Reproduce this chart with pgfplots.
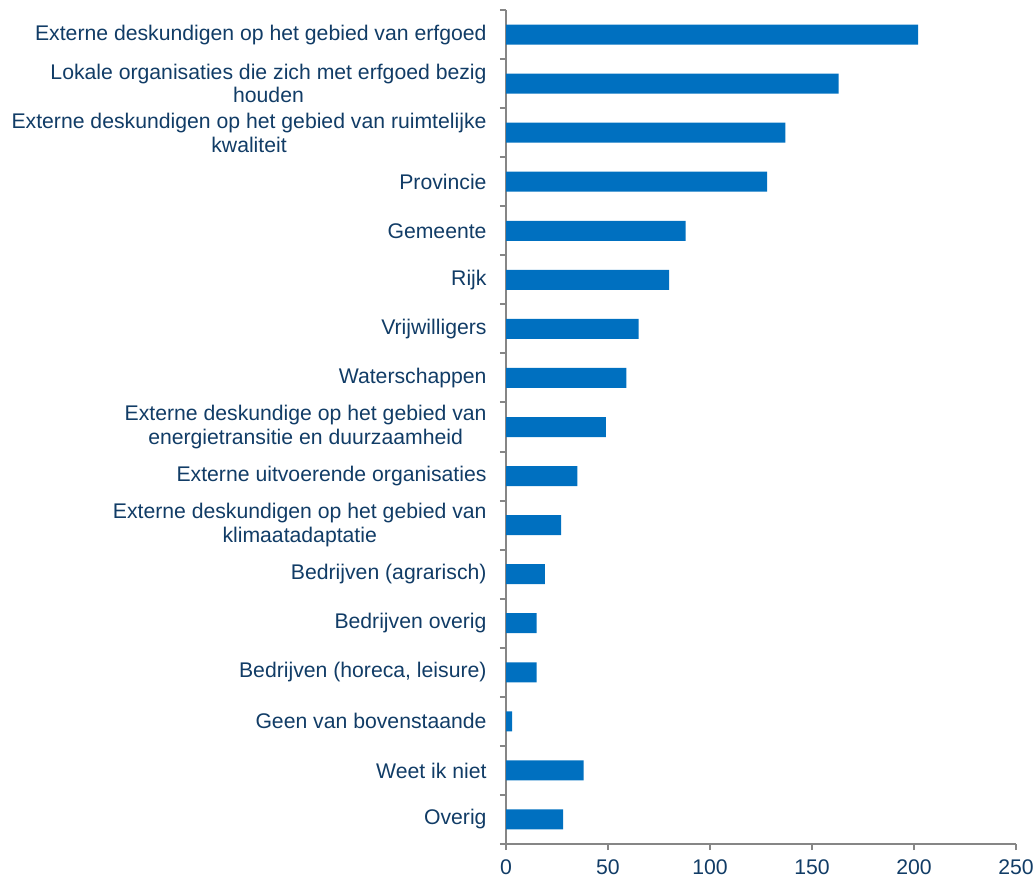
\documentclass[border=0pt]{standalone}
\usepackage{pgfplots}
\pgfplotsset{compat=1.18}
\usepackage{fontspec}
\setmainfont{Liberation Sans}
\definecolor{barblue}{RGB}{0,112,192}
\definecolor{txt}{RGB}{17,60,102}
\definecolor{axgray}{RGB}{134,134,134}
\begin{document}
\fontsize{10.6}{11.8}\selectfont
\begin{tikzpicture}
\begin{axis}[
width=255pt, height=417pt, scale only axis,
xbar, bar width=10pt,
xmin=0, xmax=250, xtick={0,50,...,250},
ymin=-0.5, ymax=16.5, y dir=reverse,
ytick={0,...,16},
yticklabels={
Externe deskundigen op het gebied van erfgoed,
{Lokale organisaties die zich met erfgoed bezig\\houden},
{Externe deskundigen op het gebied van ruimtelijke\\kwaliteit},
Provincie, Gemeente, Rijk, Vrijwilligers, Waterschappen,
{Externe deskundige op het gebied van\\energietransitie en duurzaamheid},
Externe uitvoerende organisaties,
{Externe deskundigen op het gebied van\\klimaatadaptatie},
Bedrijven (agrarisch), Bedrijven overig, {Bedrijven (horeca, leisure)},
Geen van bovenstaande, Weet ik niet, Overig},
minor ytick={-0.5,0.5,...,16.5},
major y tick style={draw=none},
minor tick length=3pt,
major tick length=3pt,
tick align=outside,
xtick pos=bottom, ytick pos=left,
axis x line*=bottom, axis y line*=left,
axis line style={axgray, line width=1pt},
every tick/.style={axgray, line width=1pt},
tick label style={text=txt, font=\fontsize{10.6}{11.8}\selectfont},
yticklabel style={align=center, xshift=-3pt},
xticklabel style={yshift=-1pt},
/pgf/number format/assume math mode=true,
]
\addplot[fill=barblue, draw=none] coordinates {
(202,0) (163,1) (137,2) (128,3) (88,4) (80,5) (65,6) (59,7) (49,8) (35,9) (27,10) (19,11) (15,12) (15,13) (3,14) (38,15) (28,16)};
\end{axis}
\pgfresetboundingbox
\path ([xshift=-253pt,yshift=-16pt]current axis.south west) rectangle ([xshift=9.5pt,yshift=5pt]current axis.north east);
\end{tikzpicture}
\end{document}
